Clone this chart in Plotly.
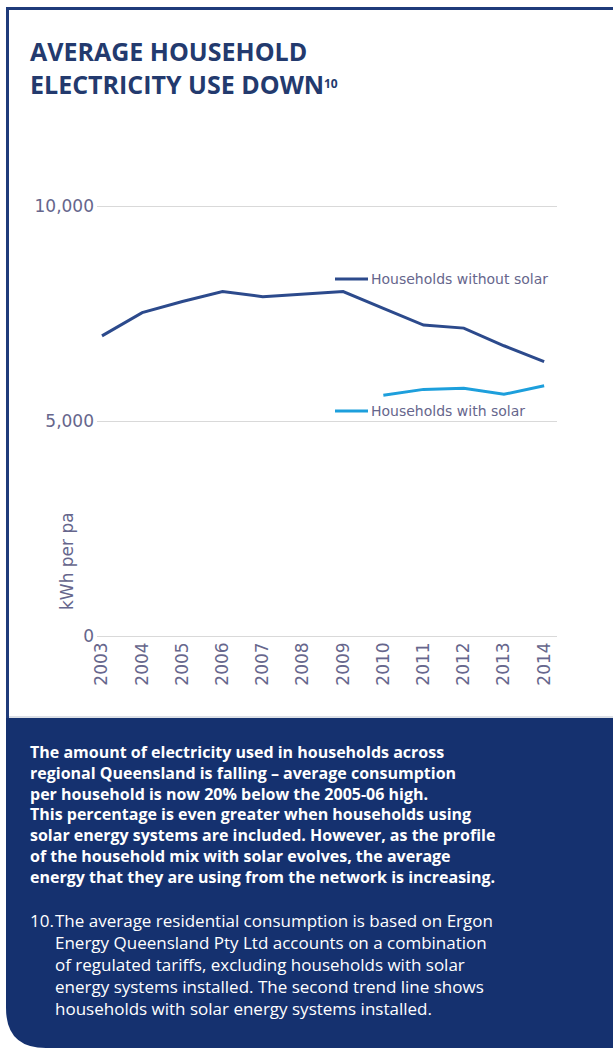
import plotly.graph_objects as go

# ---- data ----
years = [2003, 2004, 2005, 2006, 2007, 2008, 2009, 2010, 2011, 2012, 2013, 2014]
without_solar = [6980, 7520, 7780, 8010, 7890, 7950, 8010, 7620, 7230, 7160, 6750, 6380]
solar_years = [2010, 2011, 2012, 2013, 2014]
with_solar = [5600, 5735, 5760, 5620, 5820]
y_ticks = [0, 5000, 10000]
y_tick_labels = ["0", "5,000", "10,000"]

W, H = 613, 1048
L, R, T, B = 97, 56, 204, 410
PW, PH = W - L - R, H - T - B
YPAD = 46.5  # small padding so that edge gridlines are drawn

def px(x):
    return (x - L) / PW

def py(y):
    return (H - B - y) / PH

DARK = "#2c4a8c"
LIGHT = "#1d9fdc"
NAVY = "#15316f"
TXT = "#66668c"
TICKFONT = "DejaVu Sans"

fig = go.Figure()
fig.add_trace(go.Scatter(x=years, y=without_solar, mode="lines",
                         line=dict(color=DARK, width=3), hoverinfo="skip", showlegend=False))
fig.add_trace(go.Scatter(x=solar_years, y=with_solar, mode="lines",
                         line=dict(color=LIGHT, width=3), hoverinfo="skip", showlegend=False))

shapes = []
# frame top + left
shapes.append(dict(type="rect", xref="paper", yref="paper", x0=px(6), x1=px(613), y0=py(7), y1=py(10),
                   fillcolor="#1f3b7a", line=dict(width=0), layer="above"))
shapes.append(dict(type="rect", xref="paper", yref="paper", x0=px(6), x1=px(9), y0=py(7), y1=py(720),
                   fillcolor="#1f3b7a", line=dict(width=0), layer="above"))
# bottom panel with rounded bottom-left corner
r = 40
path = (f"M {px(6)},{py(718)} L {px(613)},{py(718)} L {px(613)},{py(1048)} "
        f"L {px(6 + r)},{py(1048)} Q {px(6)},{py(1048)} {px(6)},{py(1048 - r)} Z")
shapes.append(dict(type="path", xref="paper", yref="paper", path=path,
                   fillcolor=NAVY, line=dict(width=0), layer="above"))
shapes.append(dict(type="line", xref="paper", yref="paper", x0=px(9), x1=px(613), y0=py(717), y1=py(717),
                   line=dict(color="#b8bfcc", width=1), layer="above"))
# legend line segments
shapes.append(dict(type="line", xref="paper", yref="paper", x0=px(335), x1=px(368), y0=py(279), y1=py(279),
                   line=dict(color=DARK, width=3)))
shapes.append(dict(type="line", xref="paper", yref="paper", x0=px(335), x1=px(368), y0=py(411), y1=py(411),
                   line=dict(color=LIGHT, width=3)))

ann = []
ann.append(dict(text="<b>AVERAGE HOUSEHOLD<br>ELECTRICITY USE DOWN</b>",
                xref="paper", yref="paper", x=px(28), y=py(32), xanchor="left", yanchor="top",
                align="left", showarrow=False, font=dict(family="Open Sans", size=25, color="#233a6e")))
ann.append(dict(text="<b>10</b>", xref="paper", yref="paper", x=px(322), y=py(73),
                xanchor="left", yanchor="top", showarrow=False,
                font=dict(family="Open Sans", size=12, color="#233a6e")))
ann.append(dict(text="Households without solar", xref="paper", yref="paper", x=px(369), y=py(279),
                xanchor="left", yanchor="middle", showarrow=False,
                font=dict(family=TICKFONT, size=14, color=TXT)))
ann.append(dict(text="Households with solar", xref="paper", yref="paper", x=px(369), y=py(411),
                xanchor="left", yanchor="middle", showarrow=False,
                font=dict(family=TICKFONT, size=14, color=TXT)))
ann.append(dict(text="kWh per pa", xref="paper", yref="paper", x=px(67), y=py(561), textangle=-90,
                xanchor="center", yanchor="middle", showarrow=False,
                font=dict(family=TICKFONT, size=17, color=TXT)))

body = ("The amount of electricity used in households across<br>"
        "regional Queensland is falling – average consumption<br>"
        "per household is now 20% below the 2005-06 high.<br>"
        "This percentage is even greater when households using<br>"
        "solar energy systems are included. However, as the profile<br>"
        "of the household mix with solar evolves, the average<br>"
        "energy that they are using from the network is increasing.")
ann.append(dict(text="<b>" + body + "</b>", xref="paper", yref="paper", x=px(28), y=py(739),
                xanchor="left", yanchor="top", align="left", showarrow=False,
                font=dict(family="Open Sans", size=16, color="white")))
ann.append(dict(text="10.", xref="paper", yref="paper", x=px(28), y=py(907),
                xanchor="left", yanchor="top", align="left", showarrow=False,
                font=dict(family="Open Sans", size=17, color="white")))
foot = ("The average residential consumption is based on Ergon<br>"
        "Energy Queensland Pty Ltd accounts on a combination<br>"
        "of regulated tariffs, excluding households with solar<br>"
        "energy systems installed. The second trend line shows<br>"
        "households with solar energy systems installed.")
ann.append(dict(text=foot, xref="paper", yref="paper", x=px(53), y=py(907),
                xanchor="left", yanchor="top", align="left", showarrow=False,
                font=dict(family="Open Sans", size=17, color="white")))

fig.update_layout(
    width=W, height=H, margin=dict(l=L, r=R, t=T, b=B),
    paper_bgcolor="white", plot_bgcolor="white",
    shapes=shapes, annotations=ann,
    xaxis=dict(range=[2002.876, 2014.32], tickvals=years, ticktext=[str(y) for y in years],
               tickangle=-90, showgrid=False, zeroline=False, showline=False,
               tickfont=dict(family=TICKFONT, size=17, color=TXT), fixedrange=True),
    yaxis=dict(range=[-YPAD, 10000 + YPAD], tickvals=y_ticks, ticktext=y_tick_labels,
               showgrid=True, gridcolor="#d9d9d9", gridwidth=1, zeroline=False, showline=False,
               tickfont=dict(family=TICKFONT, size=17, color=TXT), fixedrange=True,
               ticklabelstandoff=2),
)

fig.write_html("out.html")
